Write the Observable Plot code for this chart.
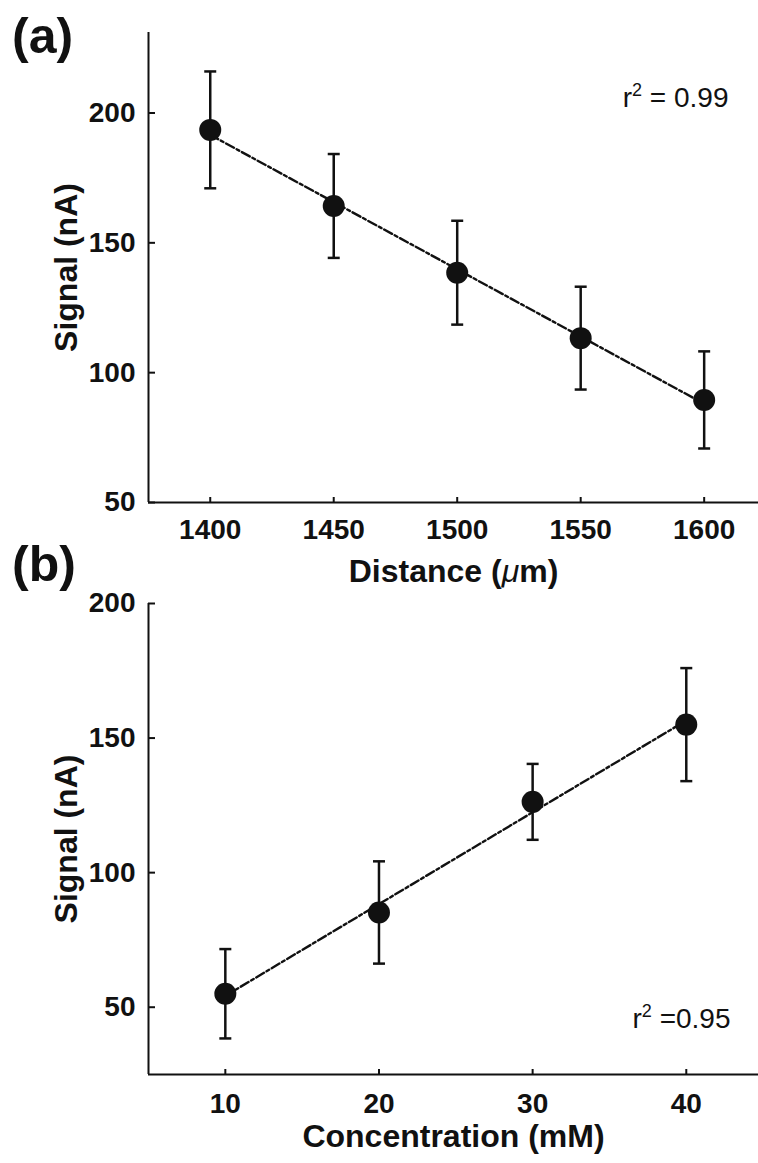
<!DOCTYPE html>
<html><head><meta charset="utf-8">
<script src="https://cdn.jsdelivr.net/npm/d3@7"></script>
<script src="https://cdn.jsdelivr.net/npm/@observablehq/plot@0.6"></script>
<style>
html,body{margin:0;padding:0;background:#fff;}
#wrap{position:relative;width:758px;height:1163px;overflow:hidden;font-family:"Liberation Sans",Arial,sans-serif;color:#111;}
.panel{position:absolute;left:0;}
.tag{position:absolute;left:12px;font-weight:bold;font-size:50px;line-height:1;}
g[aria-label="x-axis label"] text, g[aria-label="y-axis label"] text {font-size:32px;}
</style></head><body>
<div id="wrap">
 <div class="panel" id="pa" style="top:0"></div>
 <div class="panel" id="pb" style="top:560px"></div>
 <div class="tag" style="top:11px">(a)</div>
 <div class="tag" style="top:539px">(b)</div>
</div>
<script>
// Panel (a)
const distance = [1400, 1450, 1500, 1550, 1600];
const signalA  = [193.5, 164.2, 138.5, 113.3, 89.5];
const errA     = [22.5, 20.0, 20.0, 19.8, 18.7];
const xTicksA  = [1400, 1450, 1500, 1550, 1600];
const yTicksA  = [50, 100, 150, 200];
const xDomainA = [1375, 1622];
const yDomainA = [50, 231];
const r2A      = ["r² = 0.99"];
// Panel (b)
const concentration = [10, 20, 30, 40];
const signalB  = [55.0, 85.2, 126.3, 155.0];
const errB     = [16.6, 19.0, 14.1, 21.0];
const xTicksB  = [10, 20, 30, 40];
const yTicksB  = [50, 100, 150, 200];
const xDomainB = [5, 44.7];
const yDomainB = [25, 200];
const r2B      = ["r² =0.95"];

const INK = "#111";
const cap = {draw(ctx, size) { const r = Math.sqrt(size / Math.PI); ctx.moveTo(-r, 0); ctx.lineTo(r, 0); }};

function panel(o) {
  const data = o.xs.map((x, i) => ({x, y: o.ys[i], lo: o.ys[i] - o.es[i], hi: o.ys[i] + o.es[i]}));
  return Plot.plot({
    width: 758, height: o.height,
    marginLeft: 148, marginRight: 0, marginTop: o.marginTop, marginBottom: o.marginBottom,
    style: {fontFamily: '"Liberation Sans", Arial, sans-serif', fontSize: "28px", fontWeight: "bold", color: INK, background: "transparent", overflow: "visible"},
    x: {domain: o.xDomain},
    y: {domain: o.yDomain},
    marks: [
      Plot.ruleX([o.xDomain[0]], {stroke: INK, strokeWidth: 2}),
      Plot.ruleY([o.yDomain[0]], {stroke: INK, strokeWidth: 2}),
      Plot.axisY(o.yTicks, {tickSize: -7, tickPadding: 20, strokeWidth: 2, tickFormat: "d",
        label: "Signal (nA)", labelAnchor: "center", labelOffset: 94, labelArrow: "none"}),
      Plot.axisX(o.xTicks, {tickSize: -5, tickPadding: o.xPad, strokeWidth: 2, tickFormat: "d",
        label: o.xLabel, labelAnchor: "center", labelOffset: o.xLabelOffset, labelArrow: "none"}),
      Plot.linearRegressionY(data, {x: "x", y: "y", ci: 0, stroke: INK, strokeWidth: 2.4, strokeDasharray: "9,3,3,3"}),
      Plot.ruleX(data, {x: "x", y1: "lo", y2: "hi", stroke: INK, strokeWidth: 2.5}),
      Plot.dot(data, {x: "x", y: "hi", symbol: cap, r: 6, stroke: INK, strokeWidth: 2.5, fill: "none"}),
      Plot.dot(data, {x: "x", y: "lo", symbol: cap, r: 6, stroke: INK, strokeWidth: 2.5, fill: "none"}),
      Plot.dot(data, {x: "x", y: "y", r: 11, fill: INK, stroke: "none"}),
      Plot.text(o.r2, {text: d => d, frameAnchor: o.r2Anchor, textAnchor: "end", lineAnchor: "bottom",
        dx: o.r2dx, dy: o.r2dy, fontWeight: "normal", fontSize: 28, fill: INK})
    ]
  });
}

function mk(s, attrs) {
  const t = document.createElementNS("http://www.w3.org/2000/svg", "tspan");
  t.textContent = s;
  if (attrs) for (const k in attrs) t.setAttribute(k, attrs[k]);
  return t;
}
function richText(svg) {
  svg.querySelectorAll("text").forEach(t => {
    const s = t.textContent;
    if (s.includes("μ")) {
      const [a, b] = s.split("μ");
      t.textContent = "";
      t.append(mk(a), mk("μ", {"font-style": "italic", "font-weight": "normal"}), mk(b));
    } else if (s.includes("²")) {
      const [a, b] = s.split("²");
      t.textContent = "";
      t.append(mk(a), mk("2", {"font-size": "18px", dy: "-11"}), mk(b, {dy: "11"}));
    }
  });
}

const svgA = panel({xs: distance, ys: signalA, es: errA, xTicks: xTicksA, yTicks: yTicksA,
  xDomain: xDomainA, yDomain: yDomainA, xLabel: "Distance (μm)", r2: r2A,
  height: 600, marginTop: 32, marginBottom: 98, xPad: 22, xLabelOffset: 79,
  r2Anchor: "top-right", r2dx: -30, r2dy: 74});
const svgB = panel({xs: concentration, ys: signalB, es: errB, xTicks: xTicksB, yTicks: yTicksB,
  xDomain: xDomainB, yDomain: yDomainB, xLabel: "Concentration (mM)", r2: r2B,
  height: 603, marginTop: 43, marginBottom: 89, xPad: 24, xLabelOffset: 72,
  r2Anchor: "bottom-right", r2dx: -28, r2dy: -47});
richText(svgA); richText(svgB);
document.getElementById("pa").append(svgA);
document.getElementById("pb").append(svgB);
</script>
</body></html>
